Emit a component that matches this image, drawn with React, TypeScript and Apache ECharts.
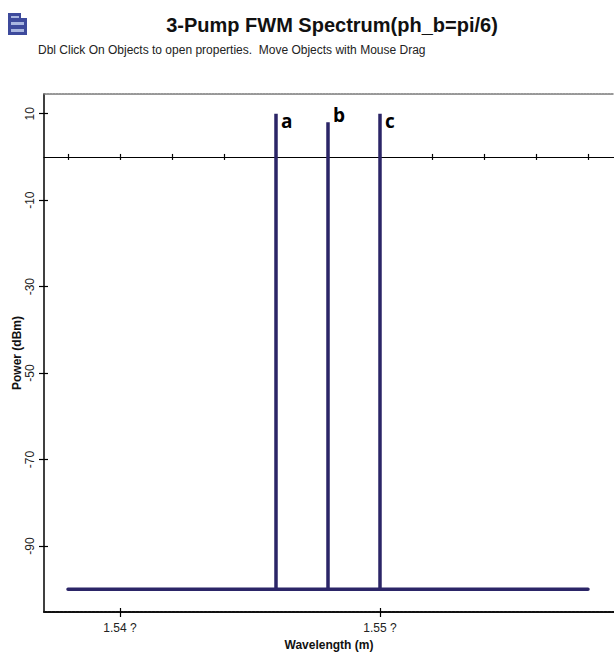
import React, { useEffect, useRef } from "react";
import * as echarts from "echarts";

const TITLE = "3-Pump FWM Spectrum(ph_b=pi/6)";
const SUBTITLE = "Dbl Click On Objects to open properties.  Move Objects with Mouse Drag";
const X_NAME = "Wavelength (m)";
const Y_NAME = "Power (dBm)";

// spectrum: wavelength (m), power (dBm)
const wavelengths = [1.538, 1.546, 1.546, 1.546, 1.548, 1.548, 1.548, 1.55, 1.55, 1.55, 1.558];
const powers = [-100, -100, 10, -100, -100, 8, -100, -100, 10, -100, -100];
const peakLabels = ["", "", "a", "", "", "b", "", "", "c", "", ""];
const peakLabelOffsets = [null, null, [2, 7], null, null, [2, -7], null, null, [2, 7], null, null];

const xLabelTicks = [1.54, 1.55];
const zeroLineTicks = [1.538, 1.54, 1.542, 1.544, 1.546, 1.548, 1.55, 1.552, 1.554, 1.556, 1.558];
const yLabelTicks = [10, -10, -30, -50, -70, -90];

const X_MIN = 1.537077;
const X_MAX = 1.559;
const Y_MIN = -105.27;
const Y_MAX = 14.56;

const FONT = "'Liberation Sans', Arial, sans-serif";
const LINE_COLOR = "#2b2567";

export default function App() {
  const ref = useRef<HTMLDivElement>(null);
  useEffect(() => {
    if (!ref.current) return;
    const chart = echarts.init(ref.current, null, { renderer: "svg" });
    const data = wavelengths.map((w, i) => {
      const item: any = { value: [w, powers[i]] };
      if (peakLabels[i]) {
        item.label = {
          show: true,
          position: "right",
          formatter: peakLabels[i],
          offset: peakLabelOffsets[i],
          fontFamily: "'Open Sans', sans-serif",
          fontWeight: "bold",
          fontSize: 19,
          color: "#000",
          distance: 3,
        };
      }
      return item;
    });
    const hidden = { show: false };
    chart.setOption({
      animation: false,
      backgroundColor: "#fff",
      grid: { left: 44, top: 94, right: 0, bottom: 40, outerBoundsMode: "none", containLabel: false },
      xAxis: [
        {
          type: "value",
          position: "bottom",
          min: X_MIN,
          max: X_MAX,
          axisLine: { onZero: false, lineStyle: { color: "#111", width: 2, type: [3, 1] } },
          axisTick: { show: true, inside: false, length: 5, customValues: xLabelTicks, lineStyle: { color: "#000", width: 1.2 } },
          axisLabel: {
            customValues: xLabelTicks,
            formatter: (v: number) => v.toFixed(2) + " ?",
            fontFamily: FONT,
            fontSize: 12,
            color: "#222",
            margin: 10,
          },
          splitLine: hidden,
          name: X_NAME,
          nameLocation: "middle",
          nameGap: 27,
          nameMoveOverlap: false,
          nameTextStyle: { fontFamily: FONT, fontWeight: "bold", fontSize: 12, color: "#111" },
        },
        {
          type: "value",
          position: "bottom",
          min: X_MIN,
          max: X_MAX,
          axisLine: { show: false, onZero: false },
          axisTick: { show: true, inside: true, length: 4, customValues: xLabelTicks, lineStyle: { color: "#000", width: 1.2 } },
          axisLabel: hidden,
          splitLine: hidden,
        },
        {
          type: "value",
          position: "bottom",
          min: X_MIN,
          max: X_MAX,
          axisLine: { show: true, onZero: true, onZeroAxisIndex: 0, lineStyle: { color: "#000", width: 1.2 } },
          axisTick: { show: true, inside: false, length: 3, customValues: zeroLineTicks, lineStyle: { color: "#000", width: 1.2 } },
          axisLabel: hidden,
          splitLine: hidden,
        },
        {
          type: "value",
          position: "bottom",
          min: X_MIN,
          max: X_MAX,
          axisLine: { show: false, onZero: true, onZeroAxisIndex: 0 },
          axisTick: { show: true, inside: true, length: 3, customValues: zeroLineTicks, lineStyle: { color: "#000", width: 1.2 } },
          axisLabel: hidden,
          splitLine: hidden,
        },
        {
          type: "value",
          position: "top",
          min: X_MIN,
          max: X_MAX,
          axisLine: { show: true, onZero: false, lineStyle: { color: "#777", width: 1.5, type: [2, 1] } },
          axisTick: hidden,
          axisLabel: hidden,
          splitLine: hidden,
        },
      ],
      yAxis: [
        {
          type: "value",
          position: "left",
          min: Y_MIN,
          max: Y_MAX,
          axisLine: { show: true, onZero: false, lineStyle: { color: "#000", width: 1.5 } },
          axisTick: { show: true, inside: false, length: 5, customValues: yLabelTicks, lineStyle: { color: "#000", width: 1.2 } },
          axisLabel: {
            customValues: yLabelTicks,
            rotate: 90,
            fontFamily: FONT,
            fontSize: 12,
            color: "#222",
            margin: 8,
          },
          splitLine: hidden,
          name: Y_NAME,
          nameLocation: "middle",
          nameGap: 21,
          nameMoveOverlap: false,
          nameTextStyle: { fontFamily: FONT, fontWeight: "bold", fontSize: 12, color: "#111" },
        },
        {
          type: "value",
          position: "left",
          min: Y_MIN,
          max: Y_MAX,
          axisLine: { show: false, onZero: false },
          axisTick: { show: true, inside: true, length: 4, customValues: yLabelTicks, lineStyle: { color: "#000", width: 1.2 } },
          axisLabel: hidden,
          splitLine: hidden,
        },
      ],
      graphic: [
        {
          type: "group",
          left: 8,
          top: 13,
          children: [
            { type: "rect", shape: { x: 0, y: 0, width: 19, height: 22 }, style: { fill: "#3d4a9c" } },
            { type: "rect", shape: { x: 13, y: 0, width: 6, height: 5 }, style: { fill: "#ffffff" } },
            { type: "rect", shape: { x: 3, y: 3, width: 8, height: 2 }, style: { fill: "#a9b6e0" } },
            { type: "rect", shape: { x: 3, y: 9, width: 13, height: 3 }, style: { fill: "#a9b6e0" } },
            { type: "rect", shape: { x: 3, y: 16, width: 13, height: 3 }, style: { fill: "#a9b6e0" } },
          ],
        },
        {
          type: "text",
          x: 332,
          y: 25,
          style: {
            text: TITLE,
            fontFamily: FONT,
            fontWeight: "bold",
            fontSize: 20,
            fill: "#111",
            textAlign: "center",
            textVerticalAlign: "middle",
          },
        },
        {
          type: "text",
          x: 38,
          y: 50,
          style: {
            text: SUBTITLE,
            fontFamily: FONT,
            fontSize: 12,
            fill: "#222",
            textAlign: "left",
            textVerticalAlign: "middle",
          },
        },
      ],
      series: [
        {
          type: "line",
          xAxisIndex: 0,
          yAxisIndex: 0,
          data,
          showSymbol: true,
          symbol: "circle",
          symbolSize: 0,
          lineStyle: { color: LINE_COLOR, width: 3.5, cap: "round", join: "miter" },
          itemStyle: { color: LINE_COLOR },
          silent: true,
        },
      ],
    });
    return () => chart.dispose();
  }, []);
  return (
    <div
      ref={ref}
      style={{ position: "fixed", left: 0, top: 0, width: 614, height: 652, background: "#fff" }}
    />
  );
}
